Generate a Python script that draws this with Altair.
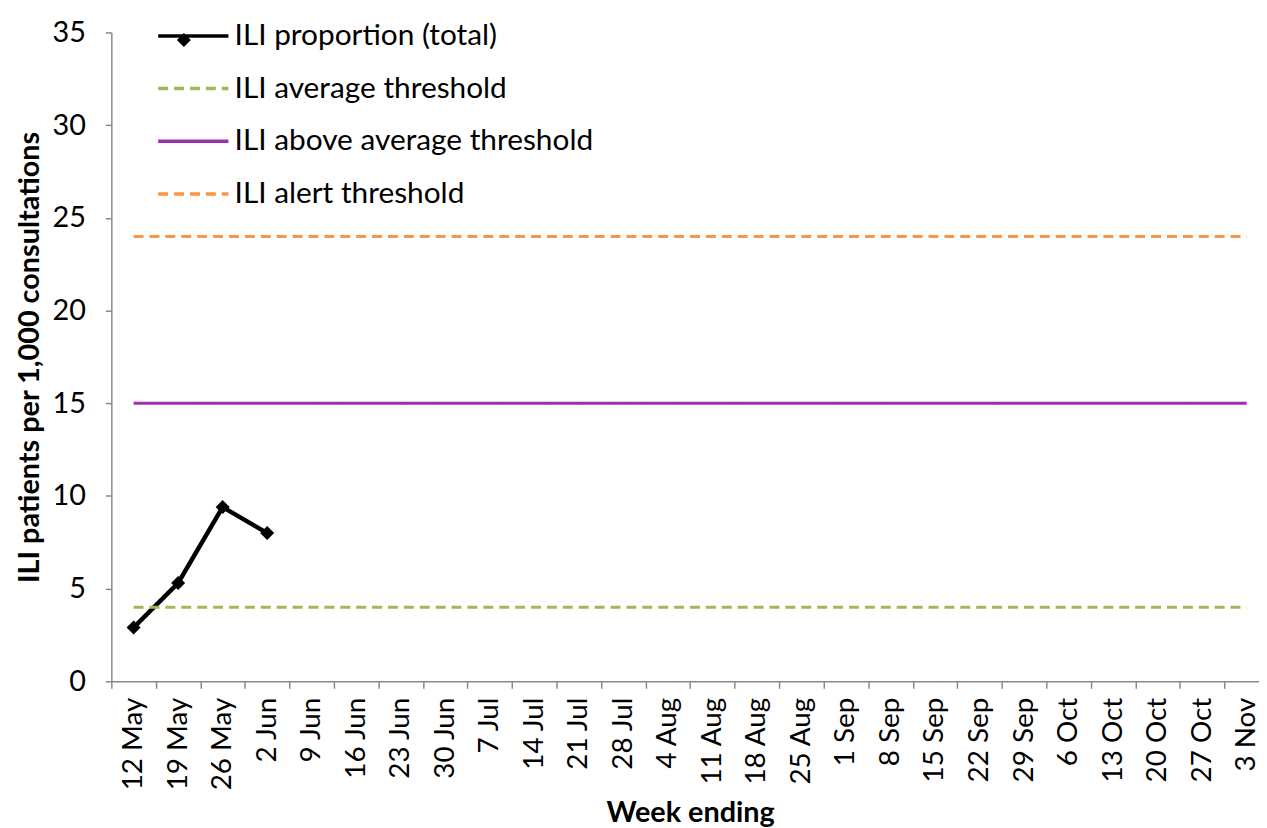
import altair as alt
import pandas as pd

weeks = ["12 May", "19 May", "26 May", "2 Jun", "9 Jun", "16 Jun", "23 Jun", "30 Jun",
         "7 Jul", "14 Jul", "21 Jul", "28 Jul", "4 Aug", "11 Aug", "18 Aug", "25 Aug",
         "1 Sep", "8 Sep", "15 Sep", "22 Sep", "29 Sep", "6 Oct", "13 Oct", "20 Oct",
         "27 Oct", "3 Nov"]
ili_total = [2.9, 5.3, 9.4, 8.0]
avg_threshold = 4.0
above_avg_threshold = 15.0
alert_threshold = 24.0

series_names = ["ILI proportion (total)", "ILI average threshold",
                "ILI above average threshold", "ILI alert threshold"]
series_colors = ["#000000", "#9BBB59", "#9C2FAE", "#F79646"]
series_dash = [[1, 0], [10, 6], [1, 0], [10, 6]]

rows = []
for w, v in zip(weeks, ili_total):
    rows.append({"week": w, "value": v, "series": series_names[0]})
for name, val in [(series_names[1], avg_threshold),
                  (series_names[2], above_avg_threshold),
                  (series_names[3], alert_threshold)]:
    for w in weeks:
        rows.append({"week": w, "value": val, "series": name})
df = pd.DataFrame(rows)

FONT = "Lato"

x_enc = alt.X("week:N", sort=weeks, title="Week ending",
              scale=alt.Scale(type="band", domain=weeks, paddingInner=0, paddingOuter=0,
                              range=[0, 1165]),
              axis=alt.Axis(labelAngle=-90, labelAlign="right", labelBaseline="middle",
                            tickBand="extent", labelPadding=9, tickSize=7,
                            labelFontSize=28, titleFontSize=29, titleFontWeight="bold",
                            titlePadding=9, domainColor="#898989", tickColor="#898989",
                            domainWidth=1.5, tickWidth=1.5, labelColor="black",
                            titleColor="black", labelFont=FONT, titleFont=FONT))
y_enc = alt.Y("value:Q", title="ILI patients per 1,000 consultations",
              scale=alt.Scale(domain=[0, 35], nice=False),
              axis=alt.Axis(values=[0, 5, 10, 15, 20, 25, 30, 35], grid=False,
                            tickSize=6, labelPadding=20, labelFontSize=29,
                            titleFontSize=29, titleFontWeight="bold", titlePadding=8,
                            domainColor="#898989", tickColor="#898989",
                            domainWidth=1.5, tickWidth=1.5, labelColor="black",
                            titleColor="black", labelFont=FONT, titleFont=FONT))

color_enc = alt.Color("series:N", sort=series_names,
                      scale=alt.Scale(domain=series_names, range=series_colors),
                      legend=alt.Legend(title=None, orient="none", legendX=45, legendY=-34,
                                        symbolType="M-1,0L1,0", symbolSize=5000,
                                        symbolStrokeWidth=3.5, labelFontSize=30,
                                        labelFont=FONT, labelColor="black",
                                        rowPadding=0, labelOffset=4, labelLimit=600))
dash_enc = alt.StrokeDash("series:N", sort=series_names,
                          scale=alt.Scale(domain=series_names, range=series_dash),
                          legend=None)

lines = alt.Chart(df).mark_line().encode(
    x=x_enc, y=y_enc, color=color_enc, strokeDash=dash_enc,
    strokeWidth=alt.condition(alt.datum.series == series_names[0],
                              alt.value(4.5), alt.value(3))
)

shape_enc = alt.Shape("series:N",
                      scale=alt.Scale(domain=[series_names[0]], range=["diamond"]),
                      legend=alt.Legend(title=None, orient="none", legendX=65.5, legendY=0,
                                        symbolSize=200, symbolFillColor="black",
                                        symbolStrokeWidth=0, labelExpr="''",
                                        labelFontSize=1, labelOffset=0, labelLimit=10))

points = alt.Chart(df[df["series"] == series_names[0]]).mark_point(
    filled=True, size=200, color="black", opacity=1
).encode(x=x_enc, y=y_enc, shape=shape_enc)

chart = alt.layer(lines, points).properties(
    width=1150, height=653,
    autosize=alt.AutoSizeParams(type="none"),
    padding={"left": 104, "top": 22, "right": 5, "bottom": 145},
    background="white"
).configure_view(stroke=None)

chart.save("out.html", embed_options={"renderer": "svg", "actions": False})
